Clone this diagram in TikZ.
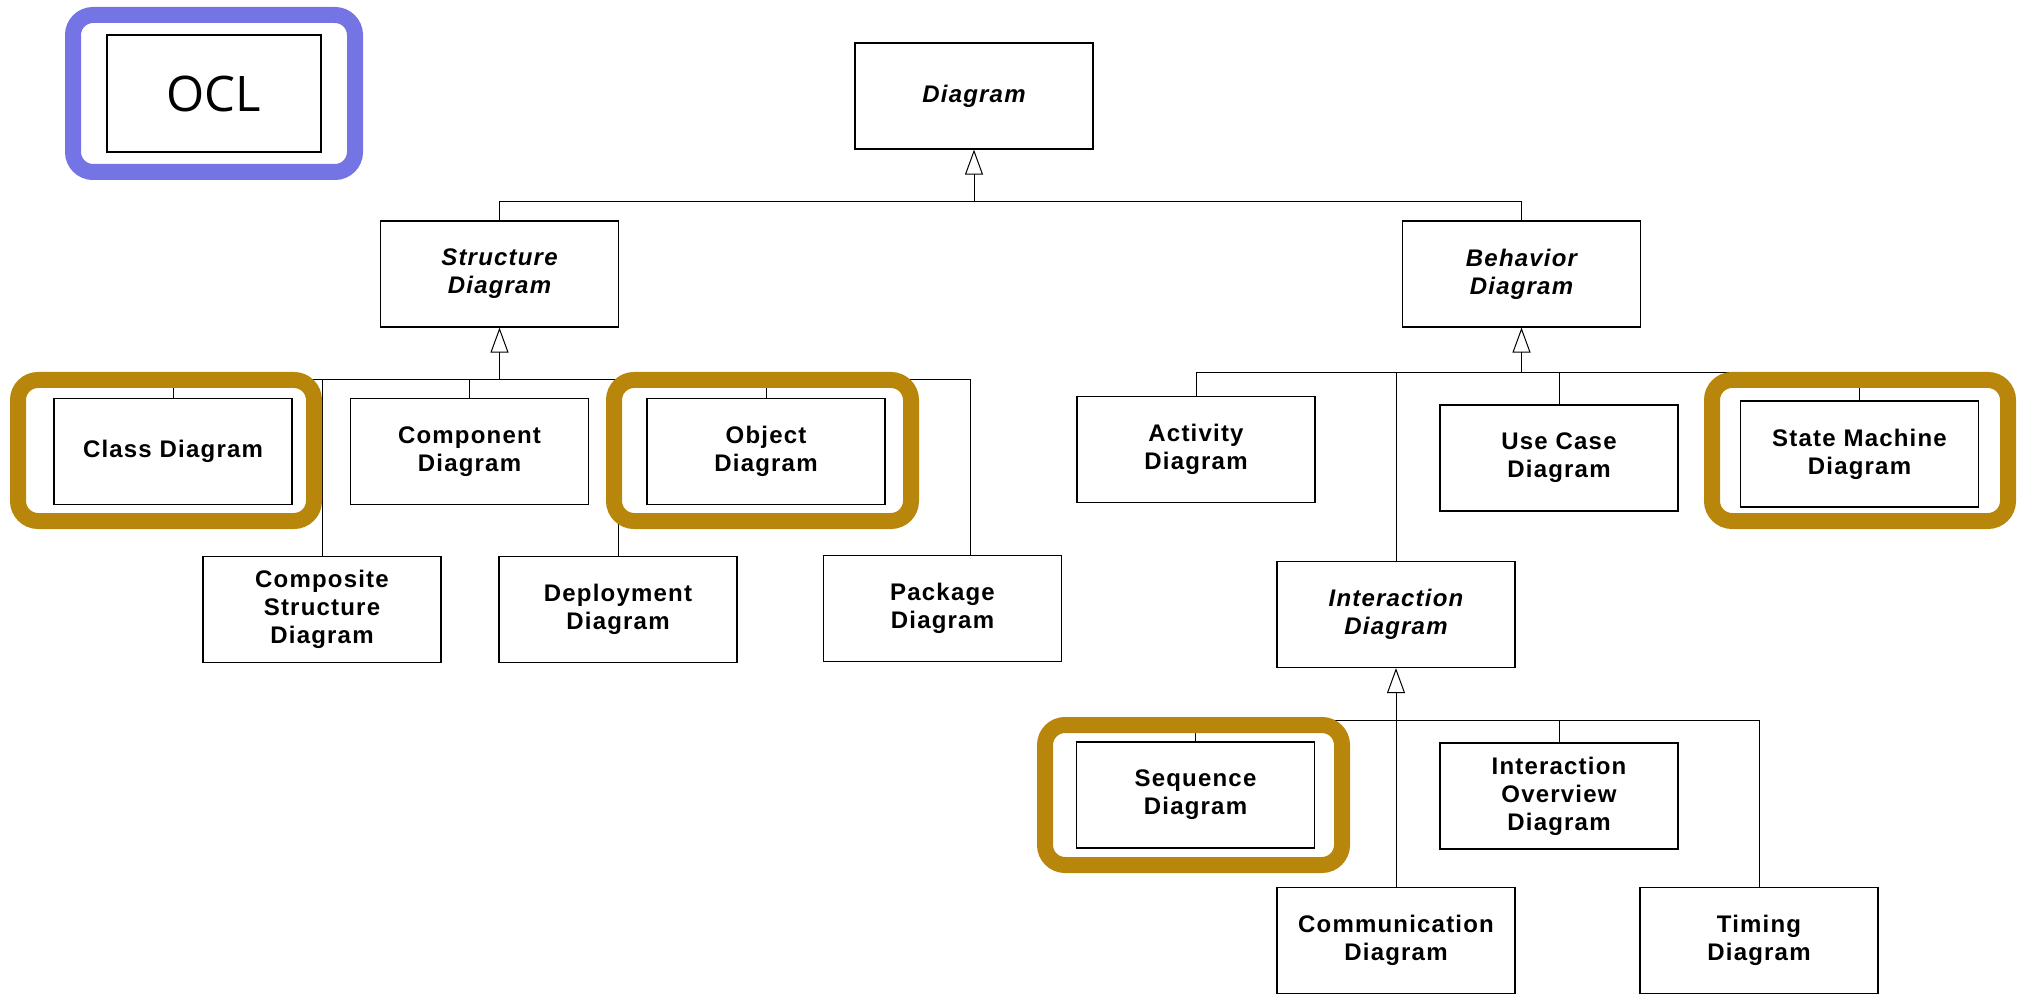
\documentclass[tikz,border=0pt]{standalone}
\usepackage{fontspec}
\usepackage{tikz}
\usetikzlibrary{arrows.meta,calc}
\newfontfamily\umlfont[LetterSpace=5]{Liberation Sans}
\newfontfamily\oclfont{Open Sans}
\definecolor{oclblue}{RGB}{116,116,228}
\definecolor{hlgold}{RGB}{184,134,11}
\tikzset{
  cls/.style={draw,line width=0.6pt,minimum width=119pt,minimum height=53pt,align=center,inner sep=2pt,
    font=\umlfont\bfseries\fontsize{12}{14}\selectfont},
  abs/.style={cls,font=\umlfont\bfseries\itshape\fontsize{12}{14}\selectfont},
  gen/.style={-{Triangle[open,length=12.5pt,width=9pt]},line width=0.5pt},
  hl/.style={line width=8pt,rounded corners=10pt}
}

\begin{document}
\begin{tikzpicture}[x=0.5pt,y=-0.5pt]
\useasboundingbox (0,0) rectangle (2018,994);
\node[draw,line width=0.9pt,minimum width=107pt,minimum height=58.5pt,
  font=\oclfont\fontsize{24.5}{28}\selectfont] (ocl) at (214,93.5) {OCL};

\node[abs] (diag) at (974,96) {Diagram};
\node[abs] (struct) at (499.5,274) {Structure\\Diagram};
\node[abs] (behav) at (1521.5,274) {Behavior\\Diagram};

\node[cls] (class) at (173,451.5) {Class Diagram};
\node[cls] (comp) at (469.5,451.5) {Component\\Diagram};
\node[cls] (obj) at (766,451.5) {Object\\Diagram};
\node[cls] (compos) at (322,609.5) {Composite\\Structure\\Diagram};
\node[cls] (deploy) at (618,609.5) {Deployment\\Diagram};
\node[cls] (pack) at (942.5,608.5) {Package\\Diagram};

\node[cls] (activ) at (1196,449.5) {Activity\\Diagram};
\node[cls] (usecase) at (1559,458) {Use Case\\Diagram};
\node[cls] (state) at (1859.5,454) {State Machine\\Diagram};
\node[abs] (inter) at (1396,614.5) {Interaction\\Diagram};

\node[cls] (seq) at (1195.5,795) {Sequence\\Diagram};
\node[cls] (overv) at (1559,796) {Interaction\\Overview\\Diagram};
\node[cls] (commun) at (1396,940.5) {Communication\\Diagram};
\node[cls] (timing) at (1759,940.5) {Timing\\Diagram};

\coordinate (jd) at (974,202);
\coordinate (js) at (499.5,380);
\coordinate (jb) at (1521.5,373);
\coordinate (ji) at (1396,720);

\draw[gen] (jd) -- (diag);
\foreach \n in {struct,behav} \draw[line width=0.5pt] (\n.north) |- (jd);
\draw[gen] (js) -- (struct);
\foreach \n in {class,comp,obj,compos,deploy} \draw[line width=0.5pt] (\n.north) |- (js);
\draw[line width=0.5pt] ($(pack.north)+(27.5,0)$) |- (js);
\draw[gen] (jb) -- (behav);
\foreach \n in {activ,inter,usecase,state} \draw[line width=0.5pt] (\n.north) |- (jb);
\draw[gen] (ji) -- (inter);
\foreach \n in {seq,commun,overv,timing} \draw[line width=0.5pt] (\n.north) |- (ji);

\draw[hl,oclblue] (73,15) rectangle (355,172);
\foreach \xa/\ya/\xb/\yb in {18/380/314/521,614/380/911/521,1712/380/2008/521,1045/725/1342/865}
  \draw[hl,hlgold] (\xa,\ya) rectangle (\xb,\yb);
\end{tikzpicture}
\end{document}
